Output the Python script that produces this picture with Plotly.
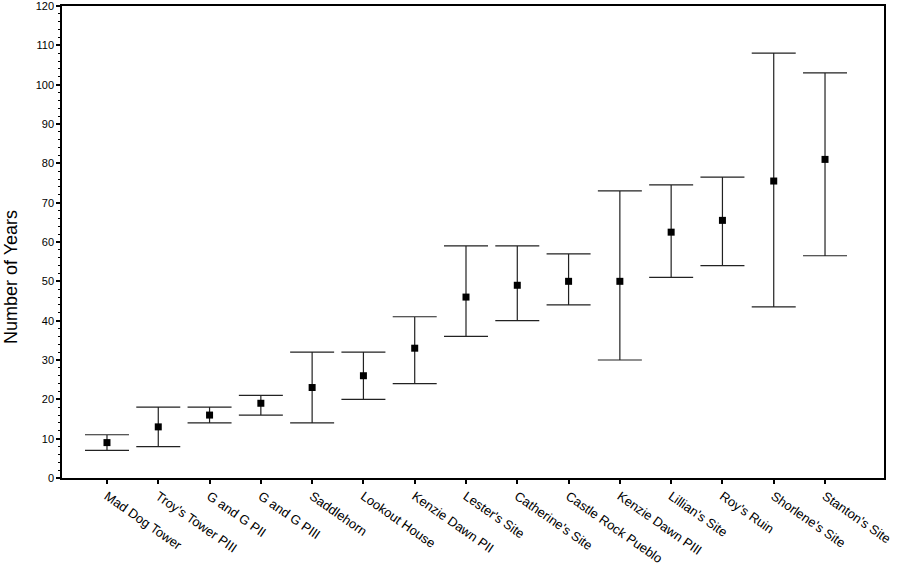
import plotly.graph_objects as go

sites = ["Mad Dog Tower", "Troy's Tower PIII", "G and G PII", "G and G PIII", "Saddlehorn",
         "Lookout House", "Kenzie Dawn PII", "Lester's Site", "Catherine's Site",
         "Castle Rock Pueblo", "Kenzie Dawn PIII", "Lillian's Site", "Roy's Ruin",
         "Shorlene's Site", "Stanton's Site"]
mean_years = [9, 13, 16, 19, 23, 26, 33, 46, 49, 50, 50, 62.5, 65.5, 75.5, 81]
upper_years = [11, 18, 18, 21, 32, 32, 41, 59, 59, 57, 73, 74.5, 76.5, 108, 103]
lower_years = [7, 8, 14, 16, 14, 20, 24, 36, 40, 44, 30, 51, 54, 43.5, 56.5]

err_plus = [u - m for u, m in zip(upper_years, mean_years)]
err_minus = [m - l for m, l in zip(mean_years, lower_years)]
xs = list(range(len(sites)))

fig = go.Figure()
fig.add_trace(go.Scatter(
    x=xs, y=mean_years, mode="markers",
    marker=dict(symbol="square", size=7, color="black"),
    error_y=dict(type="data", symmetric=False, array=err_plus, arrayminus=err_minus,
                 color="#222", thickness=1.2, width=22),
    showlegend=False,
))

fig.update_layout(
    width=900, height=569,
    margin=dict(l=62, r=16, t=6, b=91),
    paper_bgcolor="white", plot_bgcolor="white",
    font=dict(family="Liberation Sans, Arial, sans-serif", color="black"),
)
fig.update_xaxes(
    range=[-0.877, 15.15], tickmode="array", tickvals=xs, ticktext=sites,
    tickangle=35, ticks="outside", ticklen=4, tickwidth=2, tickcolor="black",
    showline=True, linecolor="black", linewidth=1.5, mirror=True,
    showgrid=False, zeroline=False, tickfont=dict(size=13), automargin=False,
    ticklabeloverflow="allow",
)
fig.update_yaxes(
    range=[0, 120], dtick=10, ticks="outside", ticklen=4, tickwidth=2, tickcolor="black",
    minor=dict(dtick=2, ticks="outside", ticklen=2, tickwidth=1, tickcolor="black"),
    showline=True, linecolor="black", linewidth=1.5, mirror=True,
    showgrid=False, zeroline=False, tickfont=dict(size=11), automargin=False,
    ticklabeloverflow="allow",
)
fig.add_annotation(
    text="Number of Years", textangle=-90, showarrow=False,
    xref="paper", yref="paper", x=(11 - 62) / 822, y=(478 - 277) / 472,
    xanchor="center", yanchor="middle", font=dict(size=18),
)

fig.write_html("out.html", config={"displayModeBar": False},
               post_script="document.body.style.margin='0';")
